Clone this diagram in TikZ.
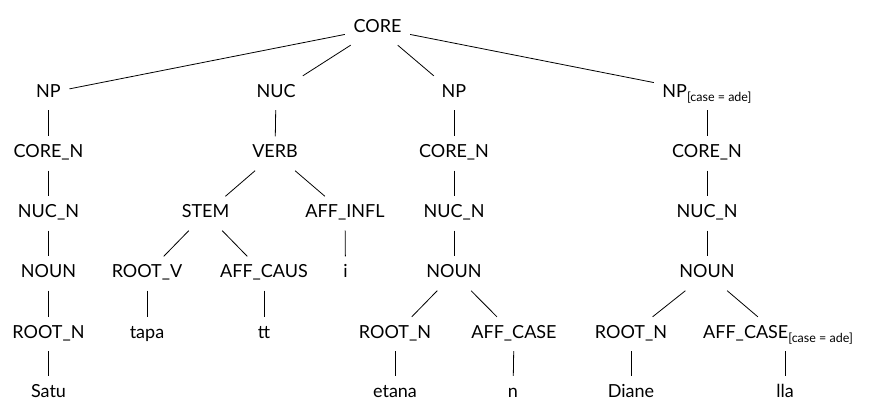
\documentclass[tikz,border=0pt]{standalone}
\usepackage{fontspec}
\setmainfont{Lato}
\begin{document}
\begin{tikzpicture}[x=1pt,y=-1pt,
  lbl/.style={anchor=base, inner xsep=8.5pt, inner ysep=8pt,
    text height=13pt, text depth=5pt, font=\fontsize{18}{20}\selectfont},
  branch/.style={line width=0.8pt}]
\useasboundingbox (0,0) rectangle (869,400);
\newcommand{\featsub}{\raisebox{-4pt}{\fontsize{12.5}{13}\selectfont[case = ade]}}
% row baselines
\def\rA{32}\def\rB{97}\def\rC{157.5}\def\rD{217.5}\def\rE{277.5}\def\rF{338}\def\rG{397}
% root
\node[lbl] (core) at (377.5,\rA) {CORE};
% first NP
\node[lbl] (np1) at (48.5,\rB) {NP};
\node[lbl] (cn1) at (48.5,\rC) {CORE\_N};
\node[lbl] (nn1) at (48.5,\rD) {NUC\_N};
\node[lbl] (no1) at (48.5,\rE) {NOUN};
\node[lbl] (rn1) at (48.5,\rF) {ROOT\_N};
\node[lbl] (w1) at (48.5,\rG) {Satu};
% nucleus
\node[lbl] (nuc) at (276,\rB) {NUC};
\node[lbl] (verb) at (275,\rC) {VERB};
\node[lbl] (stem) at (205.5,\rD) {STEM};
\node[lbl] (infl) at (345,\rD) {AFF\_INFL};
\node[lbl] (rv) at (147,\rE) {ROOT\_V};
\node[lbl] (caus) at (264,\rE) {AFF\_CAUS};
\node[lbl] (wi) at (345.5,\rE) {i};
\node[lbl] (wtapa) at (147,\rF) {tapa};
\node[lbl] (wtt) at (264,\rF) {tt};
% second NP
\node[lbl] (np2) at (454,\rB) {NP};
\node[lbl] (cn2) at (454,\rC) {CORE\_N};
\node[lbl] (nn2) at (454,\rD) {NUC\_N};
\node[lbl] (no2) at (454,\rE) {NOUN};
\node[lbl] (rn2) at (395,\rF) {ROOT\_N};
\node[lbl] (ac2) at (514,\rF) {AFF\_CASE};
\node[lbl] (w2) at (395,\rG) {etana};
\node[lbl] (wn) at (513,\rG) {n};
% third NP
\node[lbl] (np3) at (707,\rB) {NP\featsub};
\node[lbl] (cn3) at (707,\rC) {CORE\_N};
\node[lbl] (nn3) at (707,\rD) {NUC\_N};
\node[lbl] (no3) at (707,\rE) {NOUN};
\node[lbl] (rn3) at (631,\rF) {ROOT\_N};
\node[lbl] (ac3) at (778,\rF) {AFF\_CASE\featsub};
\node[lbl] (w3) at (631,\rG) {Diane};
\node[lbl] (wlla) at (785,\rG) {lla};
% branches
\draw[branch] (core) -- (np1);
\draw[branch] (core) -- (nuc);
\draw[branch] (core) -- (np2);
\draw[branch] (core) -- (np3);
\draw[branch] (np1) -- (cn1);
\draw[branch] (cn1) -- (nn1);
\draw[branch] (nn1) -- (no1);
\draw[branch] (no1) -- (rn1);
\draw[branch] (rn1) -- (w1);
\draw[branch] (nuc) -- (verb);
\draw[branch] (verb) -- (stem);
\draw[branch] (verb) -- (infl);
\draw[branch] (stem) -- (rv);
\draw[branch] (stem) -- (caus);
\draw[branch] (infl) -- (wi);
\draw[branch] (rv) -- (wtapa);
\draw[branch] (caus) -- (wtt);
\draw[branch] (np2) -- (cn2);
\draw[branch] (cn2) -- (nn2);
\draw[branch] (nn2) -- (no2);
\draw[branch] (no2) -- (rn2);
\draw[branch] (no2) -- (ac2);
\draw[branch] (rn2) -- (w2);
\draw[branch] (ac2) -- (wn);
\draw[branch] (np3) -- (cn3);
\draw[branch] (cn3) -- (nn3);
\draw[branch] (nn3) -- (no3);
\draw[branch] (no3) -- (rn3);
\draw[branch] (no3) -- (ac3);
\draw[branch] (rn3) -- (w3);
\draw[branch] (ac3.south -| wlla.north) -- (wlla);
\end{tikzpicture}
\end{document}
